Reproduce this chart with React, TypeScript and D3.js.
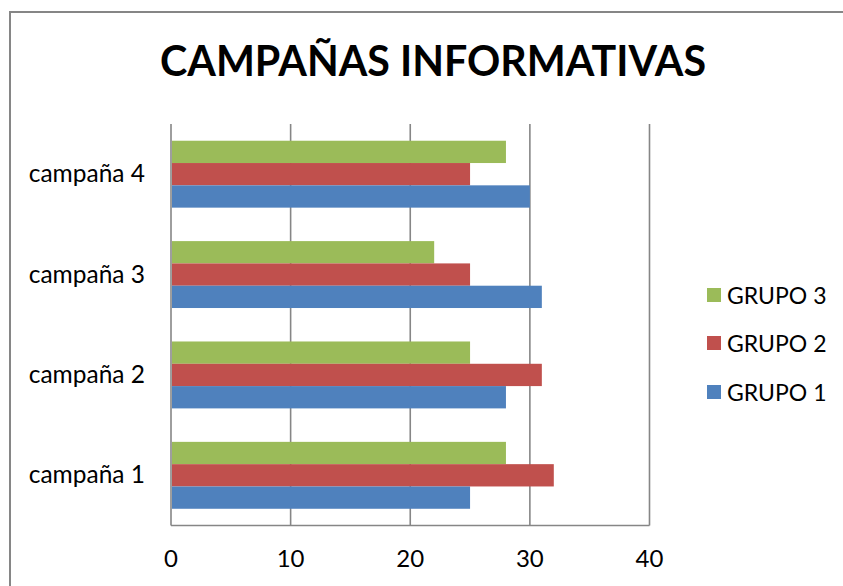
import React from "react";
import * as d3 from "d3";

const categories = ["campaña 4", "campaña 3", "campaña 2", "campaña 1"];
const seriesNames = ["GRUPO 3", "GRUPO 2", "GRUPO 1"];
const grupo1 = [30, 31, 28, 25]; // campaña 4..1
const grupo2 = [25, 25, 31, 32];
const grupo3 = [28, 22, 25, 28];
const xTicks = [0, 10, 20, 30, 40];
const colors: Record<string, string> = {
  "GRUPO 1": "#4F81BD",
  "GRUPO 2": "#C0504D",
  "GRUPO 3": "#9BBB59",
};
const seriesValues: Record<string, number[]> = {
  "GRUPO 1": grupo1,
  "GRUPO 2": grupo2,
  "GRUPO 3": grupo3,
};

const W = 843;
const H = 586;
const FONT = "Lato, 'Open Sans', sans-serif";

export default function App() {
  const x = d3.scaleLinear().domain([0, 40]).range([171, 649.5]);
  const y = d3.scaleBand<string>().domain(categories).range([124, 525.5]).padding(0);
  const inner = d3
    .scaleBand<string>()
    .domain(seriesNames)
    .range([0, y.bandwidth()])
    .paddingInner(0)
    .paddingOuter(0.75);
  const axisY = 525.5;
  const legendY = [295, 343, 392];

  return (
    <svg
      width={W}
      height={H}
      style={{ position: "absolute", left: 0, top: 0, background: "#fff" }}
      fontFamily={FONT}
    >
      <rect x={0} y={0} width={W} height={H} fill="#fff" />
      <rect x={10} y={12} width={W + 20} height={H + 20} fill="none" stroke="#868686" strokeWidth={2} />
      <text
        x={433}
        y={76}
        textAnchor="middle"
        fontSize={42}
        fontWeight={700}
        fill="#000"
        textLength={546}
        lengthAdjust="spacingAndGlyphs"
      >
        CAMPAÑAS INFORMATIVAS
      </text>
      {xTicks.map((t) => (
        <line key={"g" + t} x1={x(t)} x2={x(t)} y1={124} y2={axisY} stroke="#868686" strokeWidth={1.6} />
      ))}
      <line x1={x(0)} x2={x(40)} y1={axisY} y2={axisY} stroke="#868686" strokeWidth={1.6} />
      {categories.map((c, ci) =>
        seriesNames.map((s) => (
          <rect
            key={c + s}
            x={x(0) + 1}
            y={(y(c) as number) + (inner(s) as number)}
            width={x(seriesValues[s][ci]) - x(0) - 1}
            height={inner.bandwidth()}
            fill={colors[s]}
          />
        ))
      )}
      {xTicks.map((t) => (
        <text key={"t" + t} x={x(t)} y={567} textAnchor="middle" fontSize={24} fill="#000">
          {t}
        </text>
      ))}
      {categories.map((c) => (
        <text
          key={"c" + c}
          x={145}
          y={(y(c) as number) + y.bandwidth() / 2 + 8}
          textAnchor="end"
          fontSize={24.5}
          fill="#000"
        >
          {c}
        </text>
      ))}
      {seriesNames.map((s, i) => (
        <g key={"l" + s}>
          <rect x={707} y={legendY[i] - 7} width={14} height={14} fill={colors[s]} />
          <text x={727} y={legendY[i] + 8.5} fontSize={23} fill="#000">
            {s}
          </text>
        </g>
      ))}
    </svg>
  );
}
